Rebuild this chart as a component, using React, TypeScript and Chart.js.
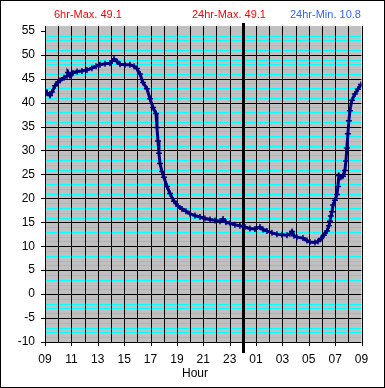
import React, { useEffect, useRef } from "react";
import { Chart, registerables } from "chart.js";

Chart.register(...registerables);

// Hours elapsed since 09:00
const hours: number[] = [
  0, 0.15, 0.38, 0.53, 0.76, 0.99, 1.14, 1.44, 1.67, 1.74, 1.9, 2.12, 2.43, 2.8, 3.18, 3.56, 3.87,
  4.17, 4.55, 4.93, 5.08, 5.23, 5.46, 5.69, 6.07, 6.44, 6.75, 6.97, 7.2, 7.43, 7.73, 7.96, 8.19,
  8.42, 8.49, 8.57, 8.64, 8.72, 8.87, 9.02, 9.25, 9.48, 9.78, 10.08, 10.39, 10.69, 10.99, 11.37,
  11.75, 12.13, 12.51, 12.89, 13.27, 13.5, 13.72, 14.03, 14.4, 14.78, 15.16, 15.54, 15.92, 16.3,
  16.53, 16.83, 17.21, 17.59, 17.97, 18.35, 18.57, 18.73, 18.88, 19.1, 19.56, 19.86, 20.09, 20.47,
  20.7, 20.93, 21.15, 21.38, 21.53, 21.61, 21.68, 21.76, 21.84, 21.99, 22.14, 22.21, 22.29, 22.44,
  22.59, 22.74, 22.82, 22.89, 22.97, 23.04, 23.12, 23.27, 23.5, 23.73, 23.96,
];

const temps: number[] = [
  42.6, 42.0, 41.5, 42.2, 43.5, 44.3, 44.6, 45.2, 45.6, 46.3, 45.6, 46.2, 46.5, 46.6, 46.8, 47.2, 47.6,
  47.9, 48.1, 48.2, 48.7, 49.1, 48.6, 48.0, 47.9, 47.9, 47.6, 47.1, 46.0, 44.2, 42.9, 40.8, 39.0,
  37.7, 34.8, 32.0, 29.4, 27.3, 25.6, 24.4, 22.5, 21.0, 19.4, 18.4, 17.8, 17.3, 16.8, 16.4,
  16.1, 15.8, 15.6, 15.4, 15.2, 15.7, 15.0, 14.8, 14.5, 14.3, 14.0, 13.7, 13.6, 14.0,
  13.5, 13.2, 12.8, 12.5, 12.4, 12.3, 12.6, 13.1, 12.2, 11.9, 11.7, 11.2, 10.9, 10.8,
  11.0, 11.6, 12.3, 13.2, 14.3, 15.2, 16.3, 17.2, 18.6, 19.6, 20.8, 22.5, 24.8, 24.4,
  24.6, 25.8, 27.8, 30.5, 33.5, 36.2, 38.3, 40.5, 41.8, 42.8, 43.8,
];

const xTickLabels: string[] = ["09", "11", "13", "15", "17", "19", "21", "23", "01", "03", "05", "07", "09"];
const yTickValues: number[] = [-10, -5, 0, 5, 10, 15, 20, 25, 30, 35, 40, 45, 50, 55];
const headerTexts: string[] = ["6hr-Max. 49.1", "24hr-Max. 49.1", "24hr-Min. 10.8"];
const headerColors: string[] = ["#ff0000", "#ff0000", "#3366ff"];
const xAxisTitle = "Hour";
const midnightHour = 15;

const FONT = '"Liberation Sans", Arial, sans-serif';

const decorPlugin = {
  id: "decor",
  beforeDraw(chart: any) {
    const { ctx, chartArea, scales } = chart;
    const xs = scales.x;
    const ys = scales.y;
    const { left, right, top, bottom } = chartArea;
    ctx.save();
    ctx.fillStyle = "#ffffff";
    ctx.fillRect(0, 0, chart.width, chart.height);
    ctx.fillStyle = "#c0c0c0";
    ctx.fillRect(left, top, right - left, bottom - top);

    // minor cyan lines every 1 unit
    ctx.lineWidth = 1;
    ctx.strokeStyle = "#00ffff";
    for (let v = -9; v <= 55; v++) {
      if (v % 5 === 0) continue;
      const y = Math.round(ys.getPixelForValue(v)) + 0.5;
      ctx.beginPath();
      ctx.moveTo(left, y);
      ctx.lineTo(right, y);
      ctx.stroke();
    }
    // major black lines
    ctx.strokeStyle = "#000000";
    for (let v = -10; v <= 50; v += 5) {
      const y = Math.round(ys.getPixelForValue(v)) + 0.5;
      ctx.beginPath();
      ctx.moveTo(left, y);
      ctx.lineTo(right, y);
      ctx.stroke();
    }
    // vertical hour lines
    for (let h = 0; h <= 24; h++) {
      const x = Math.round(xs.getPixelForValue(h)) + 0.5;
      ctx.beginPath();
      ctx.moveTo(x, top);
      ctx.lineTo(x, bottom);
      ctx.stroke();
    }
    // y tick marks
    for (const v of yTickValues) {
      const y = Math.round(ys.getPixelForValue(v)) + 0.5;
      ctx.beginPath();
      ctx.moveTo(left - 4, y);
      ctx.lineTo(left, y);
      ctx.stroke();
    }
    // x tick marks every 2 hours
    for (let h = 0; h <= 24; h += 2) {
      const x = Math.round(xs.getPixelForValue(h)) + 0.5;
      ctx.beginPath();
      ctx.moveTo(x, bottom);
      ctx.lineTo(x, bottom + 4);
      ctx.stroke();
    }
    // midnight line
    const mx = Math.round(xs.getPixelForValue(midnightHour));
    ctx.fillStyle = "#000000";
    ctx.fillRect(mx - 1, top - 3, 3, bottom - top + 14);

    // header texts
    ctx.font = "11px " + FONT;
    ctx.textBaseline = "middle";
    ctx.textAlign = "left";
    const hx = [54, 192, 290];
    headerTexts.forEach((t, i) => {
      ctx.fillStyle = headerColors[i];
      ctx.fillText(t, hx[i], 15);
    });
    // axis title
    ctx.fillStyle = "#000000";
    ctx.font = "12px " + FONT;
    ctx.textAlign = "center";
    ctx.fillText(xAxisTitle, 195, 374);
    // outer border
    ctx.strokeStyle = "#000000";
    ctx.strokeRect(0.5, 0.5, chart.width - 1, chart.height - 1);
    ctx.restore();
  },
};

export default function App() {
  const ref = useRef<HTMLCanvasElement | null>(null);
  useEffect(() => {
    document.body.style.margin = "0";
    const canvas = ref.current;
    if (!canvas) return;
    const chart = new Chart(canvas, {
      type: "line",
      data: {
        datasets: [
          {
            data: hours.map((h, i) => ({ x: h, y: temps[i] })),
            borderColor: "#000080",
            backgroundColor: "#000080",
            borderWidth: 3,
            pointStyle: "cross",
            pointRadius: 3,
            pointBorderWidth: 1.5,
            tension: 0,
          },
        ],
      },
      options: {
        responsive: false,
        animation: false,
        devicePixelRatio: 1,
        layout: { padding: { left: 0, top: 26, right: 23.5, bottom: 0 } },
        plugins: { legend: { display: false }, tooltip: { enabled: false }, title: { display: false } },
        scales: {
          x: {
            type: "linear",
            min: 0,
            max: 24,
            grid: { display: false, drawTicks: false },
            border: { display: false },
            ticks: {
              stepSize: 2,
              autoSkip: false,
              maxRotation: 0,
              padding: 10,
              color: "#000000",
              font: { family: FONT, size: 12 },
              callback: (v: any) => xTickLabels[Math.round(Number(v) / 2)] ?? "",
            },
            afterFit: (s: any) => {
              s.height = 46;
            },
          },
          y: {
            type: "linear",
            min: -10,
            max: 56,
            grid: { display: false, drawTicks: false },
            border: { display: true, color: "#000000", width: 1 },
            afterBuildTicks: (s: any) => {
              s.ticks = yTickValues.map((v) => ({ value: v }));
            },
            ticks: {
              padding: 10,
              color: "#000000",
              font: { family: FONT, size: 12 },
            },
            afterFit: (s: any) => {
              s.width = 45;
            },
          },
        },
      },
      plugins: [decorPlugin],
    });
    return () => chart.destroy();
  }, []);
  return <canvas ref={ref} width={385} height={388} style={{ display: "block" }} />;
}
